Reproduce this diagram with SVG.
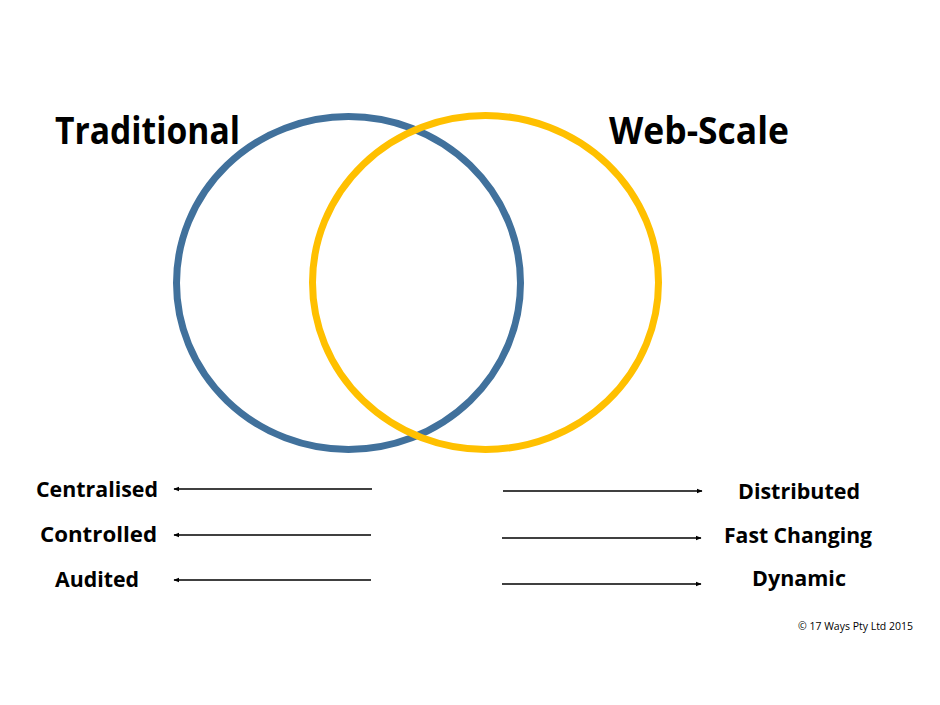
<svg xmlns="http://www.w3.org/2000/svg" width="940" height="705" viewBox="0 0 940 705">
<style>
.title{font-family:"Open Sans","Liberation Sans",sans-serif;font-weight:bold;font-size:37px;fill:#000}
.lbl{font-family:"Open Sans","Liberation Sans",sans-serif;font-weight:bold;font-size:21px;fill:#000}
.copy{font-family:"Open Sans","Liberation Sans",sans-serif;font-size:10.5px;fill:#000}
.conn{stroke:#000;stroke-width:1.5;fill:none}
</style>
<defs>
<marker id="ah" viewBox="0 0 10 10" refX="9" refY="5" markerWidth="6" markerHeight="6" orient="auto" markerUnits="userSpaceOnUse">
<path d="M0,1 L10,5 L0,9 Z" fill="#000"/>
</marker>
</defs>
<rect width="940" height="705" fill="#fff"/>
<g id="traditional">
<ellipse cx="348.5" cy="283" rx="172" ry="166.5" fill="none" stroke="#41719C" stroke-width="7"/>
<text class="title" x="55" y="144" textLength="185" lengthAdjust="spacingAndGlyphs">Traditional</text>
</g>
<g id="webscale">
<ellipse cx="485.5" cy="282.5" rx="173" ry="167" fill="none" stroke="#FFC000" stroke-width="7"/>
<text class="title" x="609" y="144" textLength="180" lengthAdjust="spacingAndGlyphs">Web-Scale</text>
</g>
<g id="left-labels">
<text class="lbl" x="36" y="497" textLength="122" lengthAdjust="spacingAndGlyphs">Centralised</text>
<text class="lbl" x="40" y="542" textLength="117" lengthAdjust="spacingAndGlyphs">Controlled</text>
<text class="lbl" x="55" y="587" textLength="84" lengthAdjust="spacingAndGlyphs">Audited</text>
</g>
<g id="right-labels">
<text class="lbl" x="738" y="499" textLength="122" lengthAdjust="spacingAndGlyphs">Distributed</text>
<text class="lbl" x="724" y="543" textLength="148" lengthAdjust="spacingAndGlyphs">Fast Changing</text>
<text class="lbl" x="752" y="586" textLength="94" lengthAdjust="spacingAndGlyphs">Dynamic</text>
</g>
<g id="connectors">
<line class="conn" x1="372" y1="489" x2="174" y2="489" marker-end="url(#ah)"/>
<line class="conn" x1="371" y1="535" x2="174" y2="535" marker-end="url(#ah)"/>
<line class="conn" x1="371" y1="580" x2="174" y2="580" marker-end="url(#ah)"/>
<line class="conn" x1="503" y1="491" x2="702" y2="491" marker-end="url(#ah)"/>
<line class="conn" x1="502" y1="538" x2="701" y2="538" marker-end="url(#ah)"/>
<line class="conn" x1="502" y1="584" x2="701" y2="584" marker-end="url(#ah)"/>
</g>
<text class="copy" x="798" y="630" textLength="115" lengthAdjust="spacingAndGlyphs">© 17 Ways Pty Ltd 2015</text>
</svg>
